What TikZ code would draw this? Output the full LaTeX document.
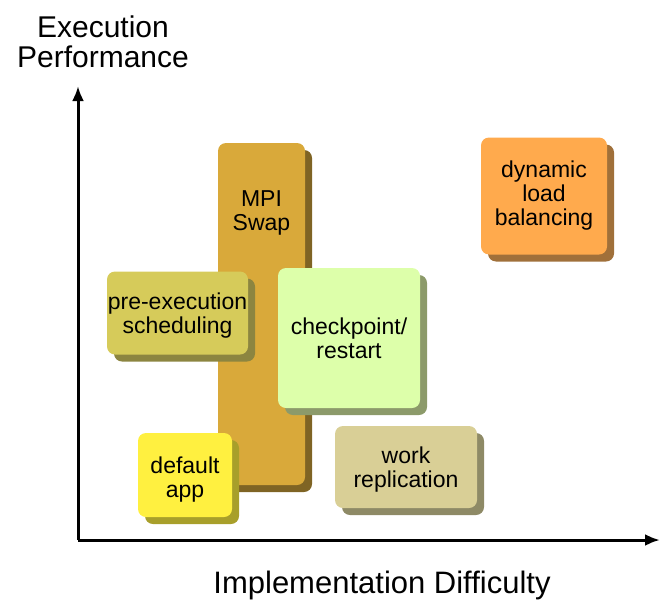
\documentclass[tikz,border=0pt]{standalone}
\usepackage{fontspec}
\setmainfont{Liberation Sans}
\usetikzlibrary{shadows,arrows.meta}
\definecolor{mpi}{HTML}{D9A93A}\definecolor{mpiS}{HTML}{7F6424}
\definecolor{dyn}{HTML}{FFAA4D}\definecolor{dynS}{HTML}{A0703A}
\definecolor{pre}{HTML}{D6CB5A}\definecolor{preS}{HTML}{8C8540}
\definecolor{chk}{HTML}{DDFFAA}\definecolor{chkS}{HTML}{8C9A6A}
\definecolor{dfl}{HTML}{FFF040}\definecolor{dflS}{HTML}{A89F2A}
\definecolor{wrk}{HTML}{D9CF96}\definecolor{wrkS}{HTML}{8E8A66}
\tikzset{
  boxx/.style n args={4}{draw=none, fill=#1, rounded corners=8pt, inner sep=0pt,
    minimum width=#3pt, minimum height=#4pt, align=center,
    font=\fontsize{23}{24}\selectfont,
    drop shadow={shadow xshift=7pt, shadow yshift=-7pt, fill=#2, opacity=1}},
  boxtext/.style={font=\fontsize{23}{24}\selectfont, align=center, inner sep=0pt},
  axis/.style={line width=3pt, -{Latex[length=15pt,width=12pt]}},
  axlabel/.style={align=center, font=\fontsize{30}{30}\selectfont, inner sep=0pt}
}
\begin{document}
\begin{tikzpicture}[x=1pt,y=-1pt]
\useasboundingbox (0,0) rectangle (660,602);
\node[boxx={mpi}{mpiS}{87}{342}] (mpi) at (261.5,314) {};
\node[boxtext] (mpit) at (261.5,213) {MPI\\Swap};
\node[boxx={dyn}{dynS}{126}{117}] (dyn) at (544,196) {dynamic\\load\\balancing};
\node[boxx={pre}{preS}{141}{83}] (pre) at (177.5,313) {};
\node[boxtext] (pret) at (177.5,315.5) {pre-execution\\scheduling};
\node[boxx={chk}{chkS}{142}{140}] (chk) at (349,338) {checkpoint/\\restart};
\node[boxx={dfl}{dflS}{94}{84}] (dfl) at (185,475) {};
\node[boxtext] (dflt) at (185,480) {default\\app};
\node[boxx={wrk}{wrkS}{142}{82}] (wrk) at (406,467) {};
\node[boxtext] (wrkt) at (406,470) {work\\replication};
\coordinate (o) at (78,540);
\coordinate (ytop) at (78,86);
\coordinate (xend) at (660,540);
\draw[axis] (o) -- (ytop);
\draw[axis] (o) -- (xend);
\node[axlabel] (ylab) at (103,42) {Execution\\Performance};
\node[axlabel, font=\fontsize{31}{31}\selectfont] (xlab) at (382,585) {Implementation Difficulty};
\end{tikzpicture}
\end{document}
